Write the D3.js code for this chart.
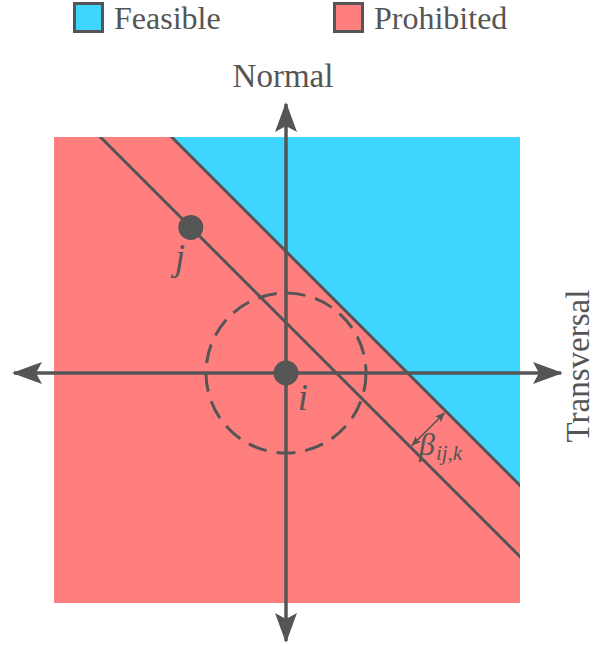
<!DOCTYPE html>
<html>
<head>
<meta charset="utf-8">
<script src="https://cdn.jsdelivr.net/npm/d3@7"></script>
</head>
<body style="margin:0">
<svg id="chart" width="607" height="646"></svg>
<script>
// legend
var legendLabels = ["Feasible", "Prohibited"];
var legendColors = ["#3ed5fe", "#ff7f7f"];

// axis titles
var axisLabels = ["Transversal", "Normal"];

// region boundaries: lines y = -x + c
var boundaryIntercepts = [1.52, 0.63];

// points
var pointNames = ["i", "j"];
var pointX = [0, -1.19];
var pointY = [0, 1.82];

// circle around i (data units)
var circleRadius = 1;

// plotted square
var xDomain = [-2.9, 2.925];
var yDomain = [-2.875, 2.95];

var dark = "#555555";
var fontName = "Liberation Serif";

var svg = d3.select("#chart");

var xScale = d3.scaleLinear().domain(xDomain).range([54, 520]);
var yScale = d3.scaleLinear().domain(yDomain).range([603, 137]);

var x0 = xDomain[0], x1 = xDomain[1], y0 = yDomain[0], y1 = yDomain[1];

svg.append("clipPath").attr("id", "sq")
    .append("rect")
    .attr("x", xScale(x0)).attr("y", yScale(y1))
    .attr("width", xScale(x1) - xScale(x0))
    .attr("height", yScale(y0) - yScale(y1));

var plot = svg.append("g").attr("clip-path", "url(#sq)");

// prohibited background
plot.append("rect")
    .attr("x", xScale(x0)).attr("y", yScale(y1))
    .attr("width", xScale(x1) - xScale(x0))
    .attr("height", yScale(y0) - yScale(y1))
    .attr("fill", legendColors[1]);

// feasible: above the first line
var c = boundaryIntercepts[0];
var feasible = [[c - y1, y1], [x1 + 5, y1], [x1 + 5, c - x1 - 5]];
plot.append("path")
    .attr("d", d3.line().x(function(d) { return xScale(d[0]); }).y(function(d) { return yScale(d[1]); })(feasible) + "Z")
    .attr("fill", legendColors[0]);

// boundary lines
boundaryIntercepts.forEach(function(ci) {
    plot.append("line")
        .attr("x1", xScale(-5)).attr("y1", yScale(5 + ci))
        .attr("x2", xScale(5)).attr("y2", yScale(-5 + ci))
        .attr("stroke", dark).attr("stroke-width", 3);
});

// dashed circle
svg.append("ellipse")
    .attr("cx", xScale(pointX[0])).attr("cy", yScale(pointY[0]))
    .attr("rx", xScale(circleRadius) - xScale(0))
    .attr("ry", yScale(0) - yScale(circleRadius))
    .attr("fill", "none").attr("stroke", dark)
    .attr("stroke-width", 3).attr("stroke-dasharray", "19,10");

// arrow markers
var defs = svg.append("defs");
defs.append("marker").attr("id", "arr")
    .attr("viewBox", "0 0 30 24").attr("refX", 28).attr("refY", 12)
    .attr("markerWidth", 30).attr("markerHeight", 24)
    .attr("markerUnits", "userSpaceOnUse").attr("orient", "auto-start-reverse")
    .append("path").attr("d", "M0,1 L30,12 L0,23 L6,12 Z").attr("fill", dark);
defs.append("marker").attr("id", "sarr")
    .attr("viewBox", "0 0 10 8").attr("refX", 9).attr("refY", 4)
    .attr("markerWidth", 10).attr("markerHeight", 8)
    .attr("markerUnits", "userSpaceOnUse").attr("orient", "auto-start-reverse")
    .append("path").attr("d", "M0,0 L10,4 L0,8 L2,4 Z").attr("fill", dark);

// axes
svg.append("line")
    .attr("x1", 14).attr("y1", yScale(0))
    .attr("x2", 561).attr("y2", yScale(0))
    .attr("stroke", dark).attr("stroke-width", 3.5)
    .attr("marker-start", "url(#arr)").attr("marker-end", "url(#arr)");
svg.append("line")
    .attr("x1", xScale(0)).attr("y1", 104)
    .attr("x2", xScale(0)).attr("y2", 641)
    .attr("stroke", dark).attr("stroke-width", 3.5)
    .attr("marker-start", "url(#arr)").attr("marker-end", "url(#arr)");

// points
svg.selectAll(".pt").data(pointNames).enter().append("circle")
    .attr("class", "pt")
    .attr("cx", function(d, k) { return xScale(pointX[k]); })
    .attr("cy", function(d, k) { return yScale(pointY[k]); })
    .attr("r", 12.5).attr("fill", dark);

var labelOffsets = [[17, 37], [-11, 43]];
svg.selectAll(".pl").data(pointNames).enter().append("text")
    .attr("class", "pl")
    .attr("x", function(d, k) { return xScale(pointX[k]) + labelOffsets[k][0]; })
    .attr("y", function(d, k) { return yScale(pointY[k]) + labelOffsets[k][1]; })
    .attr("text-anchor", "middle")
    .attr("font-family", fontName).attr("font-size", 37).attr("font-style", "italic")
    .attr("fill", dark)
    .text(function(d) { return d; });

// beta distance arrow between the two lines (direction (1,1) is normal to them)
var c2 = boundaryIntercepts[1];
var base = [1.24, -1.24];
var p2 = [base[0] + c2 / 2 + 0.02, base[1] + c2 / 2 + 0.02];
var p1 = [base[0] + c / 2 - 0.02, base[1] + c / 2 - 0.02];
svg.append("line")
    .attr("x1", xScale(p2[0])).attr("y1", yScale(p2[1]))
    .attr("x2", xScale(p1[0])).attr("y2", yScale(p1[1]))
    .attr("stroke", dark).attr("stroke-width", 1.5)
    .attr("marker-start", "url(#sarr)").attr("marker-end", "url(#sarr)");

var beta = svg.append("text")
    .attr("x", 419).attr("y", 455)
    .attr("fill", dark)
    .attr("font-family", fontName).attr("font-size", 32).attr("font-style", "italic");
beta.append("tspan").text("β");
beta.append("tspan").attr("font-size", 21).attr("dy", 5).attr("dx", 1).text("ij,k");

// axis titles
svg.append("text")
    .attr("transform", "translate(589,366) rotate(-90)")
    .attr("text-anchor", "middle")
    .attr("fill", dark)
    .attr("font-family", fontName).attr("font-size", 33)
    .text(axisLabels[0]);
svg.append("text")
    .attr("x", xScale(0) - 3).attr("y", 87)
    .attr("text-anchor", "middle")
    .attr("fill", dark)
    .attr("font-family", fontName).attr("font-size", 33)
    .text(axisLabels[1]);

// legend
var legendX = [73, 333];
var leg = svg.selectAll(".leg").data(legendLabels).enter().append("g")
    .attr("class", "leg")
    .attr("transform", function(d, k) { return "translate(" + legendX[k] + ",2)"; });
leg.append("rect")
    .attr("x", 1.5).attr("y", 1.5).attr("width", 28).attr("height", 28)
    .attr("fill", function(d, k) { return legendColors[k]; })
    .attr("stroke", dark).attr("stroke-width", 3);
leg.append("text")
    .attr("x", 41).attr("y", 27)
    .attr("fill", dark)
    .attr("font-family", fontName).attr("font-size", 32)
    .text(function(d) { return d; });
</script>
</body>
</html>
